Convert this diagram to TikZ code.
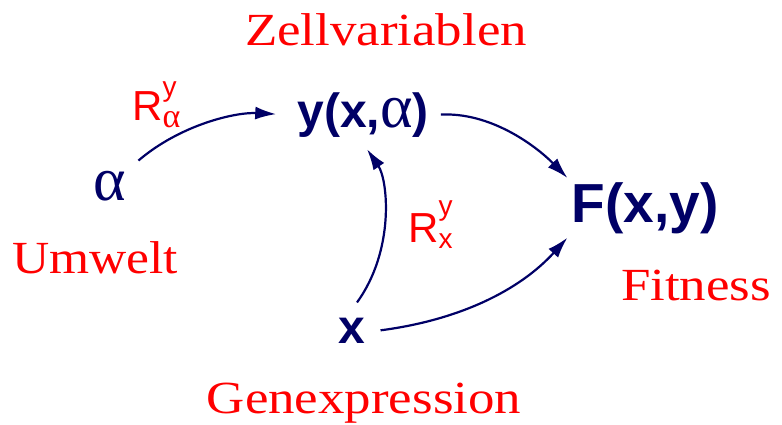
\documentclass[tikz,border=0pt]{standalone}
\usepackage{fontspec}
\setmainfont{Liberation Serif}
\newfontfamily\varfont{Liberation Sans}
\newfontfamily\grkfont{Liberation Serif}
\usetikzlibrary{arrows.meta}
\definecolor{navy}{RGB}{0,0,102}
\newcommand\subsz{\fontsize{28}{28}\selectfont}
\tikzset{
  lbl/.style={text=red, inner sep=0pt, anchor=base, font=\fontsize{46}{46}\selectfont},
  var/.style={text=navy, anchor=base, font=\varfont\bfseries\fontsize{48}{48}\selectfont},
  rlbl/.style={text=red, inner sep=0pt, anchor=base west, font=\varfont\fontsize{42}{42}\selectfont},
  arr/.style={draw=navy, line width=2.2pt, -{Latex[length=21pt,width=13pt]}}
}
\begin{document}
\begin{tikzpicture}[x=1pt,y=-1pt]
\useasboundingbox (0,0) rectangle (782,424);
% red labels
\node[lbl] (zell) at (386,45) {\scalebox{1.15}[1]{Zellvariablen}};
\node[lbl] (gen) at (364,413) {\scalebox{1.15}[1]{Genexpression}};
\node[lbl] (umw) at (95,273) {\scalebox{1.12}[1]{Umwelt}};
\node[lbl] (fit) at (696,300) {\scalebox{1.15}[1]{Fitness}};
% variables
\node[var, inner sep=12pt] (y) at (363,127) {y(x,{\grkfont\mdseries\fontsize{62}{62}\selectfont α})};
\node[var, inner sep=4pt, font=\varfont\bfseries\fontsize{55}{55}\selectfont] (F) at (645,222) {F(x,y)};
\node[var, inner sep=15pt] (x) at (352,343) {x};
\node[var, inner sep=10pt, font=\grkfont\fontsize{62}{62}\selectfont] (alpha) at (110,200) {α};
% rates
\node[rlbl] (ra) at (132,120) {R\rlap{\raisebox{24pt}{\subsz y}}\raisebox{-7pt}{\grkfont\fontsize{34}{34}\selectfont α}};
\node[rlbl] (rx) at (408,242) {R\rlap{\raisebox{27pt}{\subsz y}}\raisebox{-6pt}{\subsz x}};
% arrows
\draw[arr, shorten >=9pt] ([xshift=2pt]alpha.north east) .. controls (180,125) and (235,112) .. (y.west);
\draw[arr] (y.east) .. controls (490,112) and (535,145) .. (F.north west);
\draw[arr] ([xshift=5pt]x.north) .. controls (395,250) and (388,180) .. ([xshift=4pt]y.south);
\draw[arr] (x.east) .. controls (460,320) and (520,290) .. (F.south west);
\end{tikzpicture}
\end{document}
